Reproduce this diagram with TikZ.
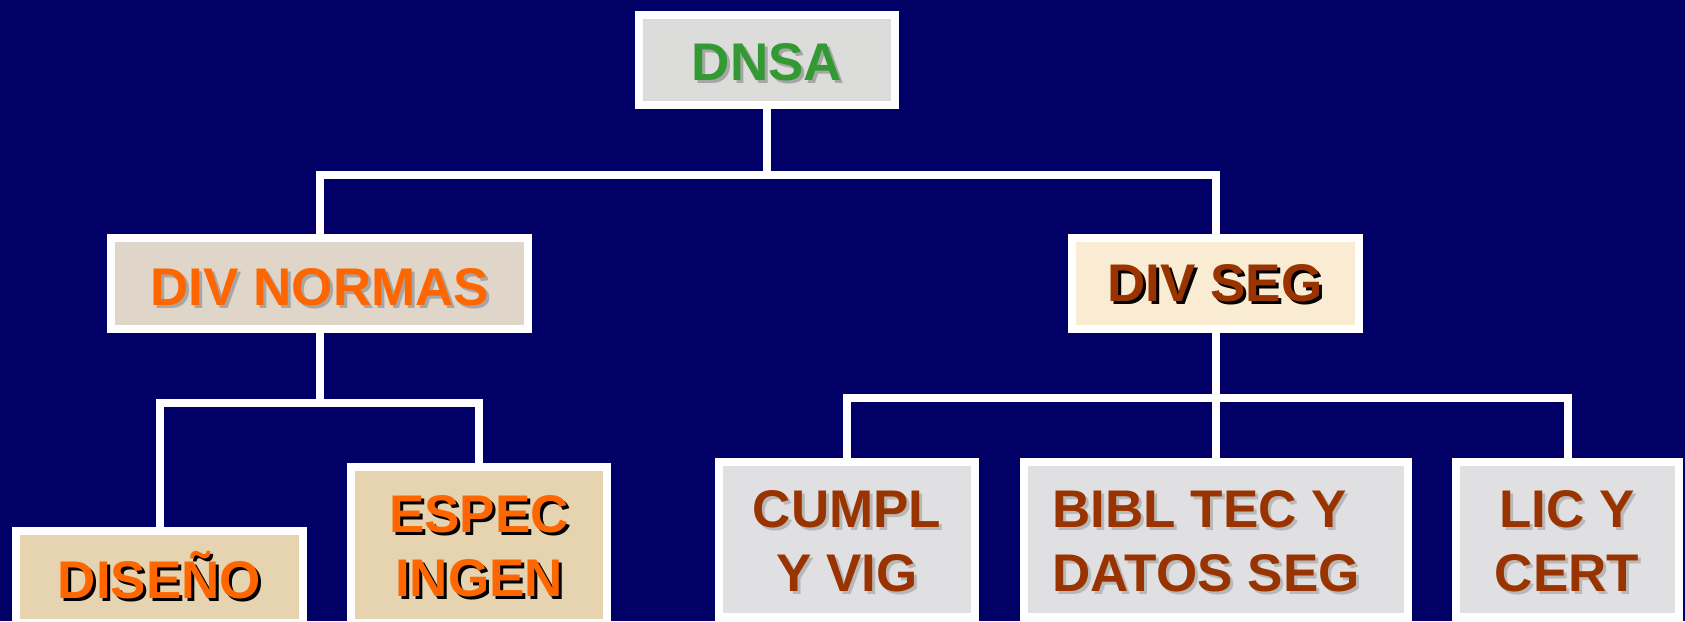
\documentclass[tikz,border=0pt]{standalone}
\usepackage{fontspec}
\setmainfont{Liberation Sans}
\definecolor{navybg}{HTML}{000066}
\definecolor{fillgray}{HTML}{DCDCDA}
\definecolor{fillbeige}{HTML}{DFD5C8}
\definecolor{fillcream}{HTML}{FAEBD3}
\definecolor{filltan}{HTML}{E6D3B0}
\definecolor{fillmarble}{HTML}{E0E0E2}
\definecolor{txtgreen}{HTML}{339933}
\definecolor{txtorange}{HTML}{FF6600}
\definecolor{txtbrown}{HTML}{993300}
\definecolor{shgray}{HTML}{A6A6A6}
\definecolor{shlight}{HTML}{B8B8B8}
\tikzset{
  orgbox/.style={draw=white, line width=8pt, rectangle, inner sep=0pt},
  conn/.style={draw=white, line width=8pt},
  lbl/.style={font=\fontsize{53}{64}\selectfont\bfseries, inner sep=0pt},
}
% name, position (x,y without parentheses), node options, text colour, shadow colour, text
\newcommand\shtxt[6]{%
  \node[lbl, #3, text=#5] (#1-sh) at ([shift={(3,3)}]#2) {#6};
  \node[lbl, #3, text=#4] (#1-tx) at (#2) {#6};
}
\begin{document}
\begin{tikzpicture}[x=1pt,y=-1pt]
\useasboundingbox (0,0) rectangle (1685,621);
\clip (0,0) rectangle (1685,621);
\fill[navybg] (0,0) rectangle (1685,621);

% boxes
\node[orgbox, fill=fillgray,   minimum width=256pt, minimum height=90pt]  (dnsa)  at (767,60) {};
\node[orgbox, fill=fillbeige,  minimum width=417pt, minimum height=91pt]  (divn)  at (319.5,283.5) {};
\node[orgbox, fill=fillcream,  minimum width=287pt, minimum height=91pt]  (divs)  at (1215.5,283.5) {};
\node[orgbox, fill=filltan,    minimum width=287pt, minimum height=92pt]  (dis)   at (159.5,577) {};
\node[orgbox, fill=filltan,    minimum width=256pt, minimum height=156pt] (esp)   at (479,545) {};
\node[orgbox, fill=fillmarble, minimum width=256pt, minimum height=155pt] (cumpl) at (847,539.5) {};
\node[orgbox, fill=fillmarble, minimum width=384pt, minimum height=155pt] (bibl)  at (1215.5,539.5) {};
\node[orgbox, fill=fillmarble, minimum width=223pt, minimum height=155pt] (lic)   at (1567.5,539.5) {};

% connectors
\coordinate (j1) at (767,174.5);
\coordinate (j2) at (319.5,403);
\coordinate (j3) at (1215.5,398);
\draw[conn] (dnsa.south) -- (j1);
\draw[conn] (divn.north) |- (j1) -| (divs.north);
\draw[conn] (divn.south) -- (j2);
\draw[conn] (dis.north) |- (j2) -| (esp.north);
\draw[conn] (divs.south) -- (bibl.north);
\draw[conn] (cumpl.north) |- (j3) -| (lic.north);

% texts
\shtxt{dnsa}{767,80}{anchor=base}{txtgreen}{shgray}{DNSA}
\shtxt{divn}{320,305}{anchor=base}{txtorange}{shgray}{DIV NORMAS}
\shtxt{divs}{1215,301}{anchor=base}{txtbrown}{black}{DIV SEG}
\shtxt{dis}{159.5,598}{anchor=base}{txtorange}{black}{DISEÑO}
\shtxt{esp}{479,546.5}{align=center}{txtorange}{black}{ESPEC\\INGEN}
\shtxt{cumpl}{847,541}{align=center}{txtbrown}{shlight}{CUMPL\\Y VIG}
\shtxt{bibl}{1206,541}{align=left}{txtbrown}{shlight}{BIBL TEC Y\\DATOS SEG}
\shtxt{lic}{1567,541}{align=center}{txtbrown}{shlight}{LIC Y\\CERT}
\end{tikzpicture}
\end{document}
